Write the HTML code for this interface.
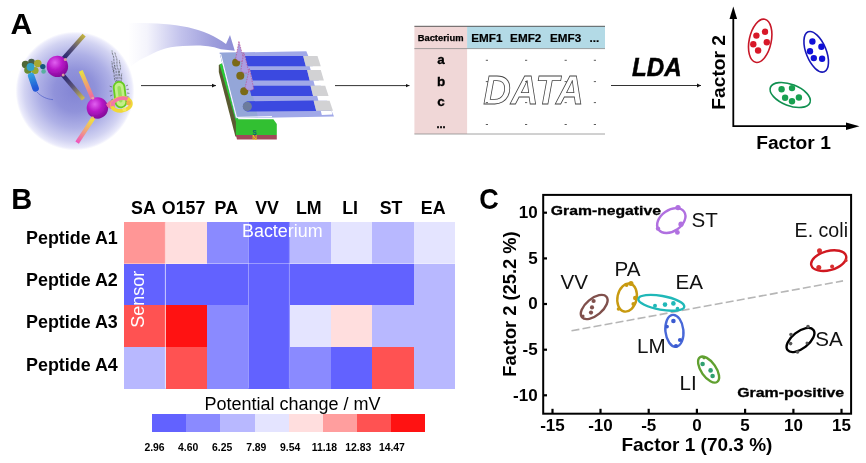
<!DOCTYPE html>
<html>
<head>
<meta charset="utf-8">
<title>Figure</title>
<style>
  html, body { margin: 0; padding: 0; background: #ffffff; }
  body { width: 866px; height: 463px; overflow: hidden; }
  svg { display: block; font-family: "Liberation Sans", sans-serif; opacity: 0.999; }
  .b { font-weight: bold; }
  .lbl { font-size: 20.6px; fill: #111; }
</style>
</head>
<body>
<svg width="866" height="463" viewBox="0 0 866 463">
  <defs>
    <marker id="ah" markerWidth="6" markerHeight="5" refX="4" refY="2.5" orient="auto" markerUnits="userSpaceOnUse">
      <path d="M0,0.6 L4,2.5 L0,4.4 Z" fill="#111"/>
    </marker>

    <radialGradient id="gSphereBg" cx="75" cy="91" r="59.4" gradientUnits="userSpaceOnUse">
      <stop offset="0" stop-color="#8284d4"/>
      <stop offset="0.35" stop-color="#9092da"/>
      <stop offset="0.62" stop-color="#aeb0e6"/>
      <stop offset="0.85" stop-color="#d2d3f2"/>
      <stop offset="0.96" stop-color="#ebebfb"/>
      <stop offset="1" stop-color="#ffffff"/>
    </radialGradient>
    <radialGradient id="gBall" cx="0.38" cy="0.32" r="0.75">
      <stop offset="0" stop-color="#e060f0"/>
      <stop offset="0.45" stop-color="#b818c8"/>
      <stop offset="1" stop-color="#7a0890"/>
    </radialGradient>
    <linearGradient id="gSwoosh" x1="128" y1="0" x2="234" y2="0" gradientUnits="userSpaceOnUse">
      <stop offset="0" stop-color="#ffffff"/>
      <stop offset="0.18" stop-color="#f4f4fc"/>
      <stop offset="0.5" stop-color="#c2c2ec"/>
      <stop offset="0.8" stop-color="#9e9edc"/>
      <stop offset="1" stop-color="#8e8ed6"/>
    </linearGradient>
    <linearGradient id="gRod1" x1="64.7" y1="57.3" x2="83.5" y2="35.7" gradientUnits="userSpaceOnUse">
      <stop offset="0" stop-color="#2a2870"/><stop offset="0.45" stop-color="#5a5478"/><stop offset="1" stop-color="#c0b040"/>
    </linearGradient>
    <linearGradient id="gRod2" x1="63.3" y1="76.9" x2="83.5" y2="99.4" gradientUnits="userSpaceOnUse">
      <stop offset="0" stop-color="#2a2870"/><stop offset="0.45" stop-color="#5a5478"/><stop offset="1" stop-color="#d0c050"/>
    </linearGradient>
    <linearGradient id="gRod3" x1="81.5" y1="71.3" x2="92.8" y2="99.4" gradientUnits="userSpaceOnUse">
      <stop offset="0" stop-color="#e8e040"/><stop offset="0.5" stop-color="#f0a070"/><stop offset="1" stop-color="#f060a8"/>
    </linearGradient>
    <linearGradient id="gRod4" x1="91.4" y1="119" x2="76.8" y2="142.8" gradientUnits="userSpaceOnUse">
      <stop offset="0" stop-color="#f0e040"/><stop offset="0.5" stop-color="#f0a080"/><stop offset="1" stop-color="#f050c0"/>
    </linearGradient>
    <linearGradient id="gPill" x1="30" y1="71" x2="36" y2="88" gradientUnits="userSpaceOnUse">
      <stop offset="0" stop-color="#38b0e0"/><stop offset="1" stop-color="#2058d8"/>
    </linearGradient>
    <filter id="soft" x="-5%" y="-5%" width="110%" height="110%"><feGaussianBlur stdDeviation="0.45"/></filter>
  </defs>
  <rect x="0" y="0" width="866" height="463" fill="#ffffff"/>

  <!-- ===================== PANEL LABELS ===================== -->
  <text x="10.4" y="33.8" class="b" font-size="30.2">A</text>
  <text x="11.2" y="208.8" class="b" font-size="29">B</text>
  <text transform="translate(479.3,208.8) scale(0.9,1)" class="b" font-size="30">C</text>

  <!-- ===================== PANEL A ===================== -->
  <g id="panelA">
    <!-- big swoosh arrow -->
    <path d="M127,23 C150,22.6 170,23.5 188,27.3 C203,30.8 216,36.5 226,44 L230,35 L234.8,50.8 L220.9,49.2 C211,46 203,45.4 196.6,45.5 C187,45.6 178,46 170.6,47.2 C163,48.8 158,50.6 153.3,53.3 C147,56.4 143,58.5 139.4,60.2 L131,66 L120,40 Z" fill="url(#gSwoosh)" filter="url(#soft)"/>
    <!-- background sphere -->
    <circle cx="75" cy="91" r="59.4" fill="url(#gSphereBg)"/>
    <g filter="url(#soft)">
      <!-- rods -->
      <line x1="63" y1="59" x2="84.1" y2="35.2" stroke="url(#gRod1)" stroke-width="4.2"/>
      <line x1="62.5" y1="74.6" x2="83.4" y2="99.2" stroke="url(#gRod2)" stroke-width="4.2"/>
      <line x1="80.7" y1="70.9" x2="93.6" y2="100.6" stroke="url(#gRod3)" stroke-width="4.2"/>
      <line x1="93.6" y1="117.6" x2="77.1" y2="142.6" stroke="url(#gRod4)" stroke-width="4.2"/>
      <!-- magenta balls -->
      <circle cx="57.4" cy="66.4" r="10.7" fill="url(#gBall)"/>
      <circle cx="97.4" cy="108" r="10.7" fill="url(#gBall)"/>
      <circle cx="65.3" cy="59.4" r="1.5" fill="#d89aa0"/>
      <circle cx="63.2" cy="75" r="1.5" fill="#d89aa0"/>
      <circle cx="92.8" cy="98.2" r="1.4" fill="#e8a0a0"/>
      <circle cx="92.6" cy="117.8" r="1.4" fill="#e8c070"/>
      <!-- left protein cluster -->
      <circle cx="25.5" cy="64.5" r="3.7" fill="#506838"/>
      <circle cx="28" cy="70" r="3.8" fill="#688a30"/>
      <circle cx="31.5" cy="62" r="3.3" fill="#4a6048"/>
      <circle cx="37.8" cy="63.5" r="3.8" fill="#a8a830"/>
      <circle cx="35" cy="70.5" r="3.6" fill="#98a830"/>
      <circle cx="30.5" cy="67" r="3.9" fill="#30a0c8"/>
      <circle cx="42.8" cy="66.6" r="2.7" fill="#18587c"/>
      <circle cx="43.6" cy="71.4" r="2.3" fill="#58b0a0"/>
      <line x1="31.2" y1="76" x2="35.6" y2="88.4" stroke="url(#gPill)" stroke-width="6.6" stroke-linecap="round"/>
      <path d="M37,92 C41,96.5 47,99.3 53,99.6" fill="none" stroke="#5060c8" stroke-width="0.7"/>
      <!-- bacterium -->
      <g fill="none" stroke="#202820" stroke-width="0.5" stroke-dasharray="2.2,0.9">
        <path d="M117.5,82 C114,77 118,72.5 115,67 C113,62.5 115,58.5 112.5,54 C112,52.5 112.3,51.5 112,50.5"/>
        <path d="M118.5,82 C116.5,77 120,72.5 117.5,67.5 C116,63.5 118,60 116,56.5 C115.2,55 115.5,53.5 114.5,52"/>
        <path d="M119.5,82 C121.5,78 118,74 120,70 C121.5,66.5 119,63.5 119.5,60"/>
        <path d="M116.5,82.5 C112.5,78.5 115.5,74 113,69.5 C111.5,66.5 113,64 111.5,61"/>
        <path d="M120.5,82.5 C123,79.5 120.5,76 122,73"/>
        <path d="M113,72 C115,70 113,67.5 115,65.5"/>
      </g>
      <rect x="114.6" y="81.8" width="10.8" height="25.6" rx="5.4" fill="#c4ee88" stroke="#68cc20" stroke-width="1.8" transform="rotate(-7 120 94.6)"/>
      <rect x="118.2" y="86" width="3.6" height="16.5" rx="1.8" fill="#98e058" transform="rotate(-7 120 94.6)"/>
      <g fill="none" stroke="#2c3c2c" stroke-width="0.5">
        <path d="M125.8,86 l2.2,-1 M126.5,89.5 l2.4,-0.3 M127,93 l2.4,0.4 M127.2,96.5 l2.2,0.8 M112,87 l-2.3,-0.8 M112,91 l-2.4,0.2 M112.4,95 l-2.3,1 M113,99 l-2.2,1.4 M111.5,103 l-2,1.2"/>
      </g>
      <!-- pink / yellow receptor ring -->
      <path d="M106,104.5 C108.5,100.5 112,99.5 115,100.5 L114.5,108.5 C111.5,110 108,108.5 106,104.5 Z" fill="#f070a0"/>
      <ellipse cx="121.4" cy="104.4" rx="9.6" ry="6.4" fill="none" stroke="#f0d838" stroke-width="3.6" transform="rotate(-8 121.4 104.4)"/>
      <path d="M112.2,106.2 A9.6,6.4 -8 0 1 127.5,99.2" fill="none" stroke="#f278a4" stroke-width="3.6"/>
      <circle cx="128.6" cy="103" r="2.4" fill="#f0b050"/>
      <circle cx="124.4" cy="109.6" r="2" fill="#f4e860"/>
    </g>
    <!-- straight arrows -->
    <line x1="141" y1="85.6" x2="216" y2="85.6" stroke="#333" stroke-width="1" marker-end="url(#ah)"/>
    <line x1="335" y1="85.6" x2="409.5" y2="85.6" stroke="#333" stroke-width="1" marker-end="url(#ah)"/>
    <line x1="611" y1="85.5" x2="701" y2="85.5" stroke="#333" stroke-width="1" marker-end="url(#ah)"/>
    <!-- chip -->
    <g filter="url(#soft)">
      <!-- magnet base -->
      <polygon points="218.8,65 221,64 237,120 237,136.5 235.4,136.5 218.8,72" fill="#5a5a30"/>
      <polygon points="219.6,64.5 222.4,63 238.4,119.6 236.2,122.5" fill="#2ccc34"/>
      <polygon points="235.9,119.3 273.4,119.3 276.8,124 276.8,135 235.9,135" fill="#30c030"/>
      <polygon points="235.9,135 276.8,135 276.8,139.4 237,139.4" fill="#a04a5a"/>
      <text x="252.5" y="134.6" font-size="6.5" class="b" fill="#106070">S</text>
      <text x="252.2" y="139.6" font-size="6.5" class="b" fill="#f0c020">N</text>
      <!-- plate -->
      <polygon points="219.6,52.8 306.3,51.2 334,116.6 235.9,118.2" fill="#a0a8e8"/>
      <polygon points="219.6,52.8 243,52.4 258,117.4 235.9,118" fill="#94a6d8"/>
      <polyline points="220.6,54 236.6,117.4 272,116.6" fill="none" stroke="#ffffff" stroke-width="1"/>
      <!-- white notches at right -->
      <polygon points="309.6,66.2 320.9,66.2 322,70.2 310.8,70.2" fill="#ffffff"/>
      <polygon points="313.4,80.6 324,80.6 325.4,85.8 314.8,85.8" fill="#ffffff"/>
      <polygon points="317.2,96 328.7,96 330,100.8 318.4,100.8" fill="#ffffff"/>
      <polygon points="320.8,111 331.6,111 332.4,114.6 321.8,114.9" fill="#ffffff"/>
      <!-- blue strips -->
      <polygon points="245,55.9 303.2,55.9 305.8,66.3 247.5,66.3" fill="#3a48e0"/>
      <polygon points="250.1,70.1 307.1,70.1 309.7,80.5 252.7,80.5" fill="#3a48e0"/>
      <polygon points="248.8,85.7 310.5,85.7 313.1,96 251.4,96" fill="#3a48e0"/>
      <path d="M247.5,101.2 L313.6,100.6 L316.2,110.9 L248.8,111.6 A5.2,5.2 0 0 1 247.5,101.2 Z" fill="#3a48e0"/>
      <circle cx="247.3" cy="106.4" r="4.6" fill="#6c7c9c"/>
      <!-- grey pads -->
      <polygon points="303.2,55.9 317.5,55.9 320.8,66.3 305.8,66.3" fill="#d2d2d4"/>
      <polygon points="307.1,70.1 320.8,70.1 323.9,80.5 309.7,80.5" fill="#d2d2d4"/>
      <polygon points="310.5,85.7 325.2,85.7 328.6,96 313.1,96" fill="#d2d2d4"/>
      <polygon points="313.6,100.8 329.6,100.8 333,110.8 316.2,110.8" fill="#d2d2d4"/>
      <!-- olive bases + cones -->
      <circle cx="236.1" cy="62.4" r="4" fill="#7a6a18"/>
      <path d="M238.9,41.3 L235.7,58.4 Q239.2,63.2 244,60.2 Z" fill="#ac9ce0" stroke="#c04080" stroke-width="0.6" stroke-dasharray="1.5,1.1"/>
      <circle cx="240.3" cy="75.7" r="4" fill="#7a6a18"/>
      <path d="M243.8,52.6 L240.9,70.2 Q244.2,75 248.9,72.1 Z" fill="#ac9ce0" stroke="#c04080" stroke-width="0.6" stroke-dasharray="1.5,1.1"/>
      <circle cx="244.2" cy="91.2" r="4" fill="#7a6a18"/>
      <path d="M249.4,68.7 L245.1,87.7 Q248.6,92.4 253.8,89 Z" fill="#ac9ce0" stroke="#c04080" stroke-width="0.6" stroke-dasharray="1.5,1.1"/>
    </g>
    <!-- data table -->
    <rect x="414.4" y="26.2" width="52.7" height="107.8" fill="#f0d7d7"/>
    <rect x="467.1" y="26.2" width="137.9" height="22.4" fill="#b3dae6"/>
    <line x1="414.4" y1="26.3" x2="605" y2="26.3" stroke="#4a4a4a" stroke-width="0.9"/>
    <line x1="414.4" y1="48.6" x2="605" y2="48.6" stroke="#8a8a8a" stroke-width="0.8"/>
    <line x1="414.4" y1="134" x2="605" y2="134" stroke="#8a8a8a" stroke-width="0.8"/>
    <text x="440.6" y="40.8" class="b" font-size="9.4" text-anchor="middle" fill="#000" stroke="#000" stroke-width="0.25">Bacterium</text>
    <g class="b" font-size="11.7" fill="#000" stroke="#000" stroke-width="0.2">
      <text x="471.3" y="41.8">EMF1</text>
      <text x="510.1" y="41.8">EMF2</text>
      <text x="550" y="41.8">EMF3</text>
      <text x="589.5" y="41.8">...</text>
    </g>
    <g class="b" font-size="13.5" fill="#000" stroke="#000" stroke-width="0.3" text-anchor="middle">
      <text x="441" y="64">a</text>
      <text x="441" y="86">b</text>
      <text x="441" y="106.3">c</text>
      <text x="441" y="127.5" font-size="11">...</text>
    </g>
    
    <text x="483.2" y="104" font-size="40" font-style="italic" class="b" fill="#ffffff" stroke="#444" stroke-width="0.8" textLength="100.5" lengthAdjust="spacingAndGlyphs">DATA</text>
    <g stroke="#333" stroke-width="0.8">
      <path d="M485.8,60.3h2.2 M525,60.3h2.2 M564.6,60.3h2.2 M593.8,60.3h2.2"/>
      <path d="M485.8,81.6h2.2 M525,81.6h2.2 M564.6,81.6h2.2 M593.8,81.6h2.2"/>
      <path d="M485.8,102.6h2.2 M525,102.6h2.2 M564.6,102.6h2.2 M593.8,102.6h2.2"/>
      <path d="M485.8,124.5h2.2 M525,124.5h2.2 M564.6,124.5h2.2 M593.8,124.5h2.2"/>
    </g>
    <!-- LDA -->
    <text x="632" y="76.2" class="b" font-style="italic" font-size="25" fill="#000" stroke="#000" stroke-width="0.5" textLength="49.6" lengthAdjust="spacingAndGlyphs">LDA</text>
    <!-- mini scatter -->
    <g stroke="#000" stroke-width="1.8" fill="none">
      <polyline points="733.3,14 733.3,126.2 848,126.2"/>
    </g>
    <polygon points="733.3,6.5 729.5,19 737.1,19" fill="#000"/>
    <polygon points="859.5,126.2 846,122.4 846,130" fill="#000"/>
    <text x="793.5" y="149.3" class="b" font-size="19.2" text-anchor="middle">Factor 1</text>
    <text transform="translate(724.6,72.3) rotate(-90)" class="b" font-size="19.2" text-anchor="middle">Factor 2</text>
    <g fill="none" stroke-width="1.6">
      <ellipse cx="760.2" cy="40.8" rx="11" ry="22" transform="rotate(12 760.2 40.8)" stroke="#c81828"/>
      <ellipse cx="816.2" cy="51.8" rx="10" ry="21.5" transform="rotate(-22 816.2 51.8)" stroke="#1818b8"/>
      <ellipse cx="790.2" cy="95" rx="21.2" ry="10.6" transform="rotate(21 790.2 95)" stroke="#109050"/>
    </g>
    <g fill="#d81828">
      <circle cx="756.4" cy="35.6" r="3.2"/><circle cx="765" cy="31.8" r="3.2"/><circle cx="753.3" cy="44.2" r="3.2"/><circle cx="766.8" cy="42.2" r="3.2"/><circle cx="758.1" cy="50.5" r="3.2"/>
    </g>
    <g fill="#1010d8">
      <circle cx="812.4" cy="41.5" r="3.2"/><circle cx="821.4" cy="46.7" r="3.2"/><circle cx="810" cy="51.2" r="3.2"/><circle cx="813.8" cy="58.1" r="3.2"/><circle cx="822.1" cy="58.8" r="3.2"/>
    </g>
    <g fill="#18a050">
      <circle cx="781.6" cy="89.2" r="3.2"/><circle cx="792" cy="88.1" r="3.2"/><circle cx="785.1" cy="97.8" r="3.2"/><circle cx="792" cy="101.3" r="3.2"/><circle cx="798.9" cy="97.5" r="3.2"/>
    </g>
  </g>

  <!-- ===================== PANEL B ===================== -->
  <g id="panelB">
    <!-- column headers -->
    <g class="b" font-size="17.8" text-anchor="middle" fill="#000">
      <text x="143.4" y="214.2">SA</text>
      <text x="183.6" y="214.2">O157</text>
      <text x="226.3" y="214.2">PA</text>
      <text x="267" y="214.2">VV</text>
      <text x="308.8" y="214.2">LM</text>
      <text x="350.1" y="214.2">LI</text>
      <text x="391" y="214.2">ST</text>
      <text x="433.2" y="214.2">EA</text>
    </g>
    <!-- row labels -->
    <g class="b" font-size="17.9" fill="#000">
      <text x="26" y="243.9">Peptide A1</text>
      <text x="26" y="286">Peptide A2</text>
      <text x="26" y="328.2">Peptide A3</text>
      <text x="26" y="370.8">Peptide A4</text>
    </g>
    <!-- heatmap cells : x0=124.3, w=41.33 ; y0=222.1, h=41.6 -->
    <g shape-rendering="crispEdges">
      <!-- row 1 -->
      <rect x="124.3" y="222.1" width="41.4" height="41.7" fill="#ff9696"/>
      <rect x="165.6" y="222.1" width="41.4" height="41.7" fill="#ffdede"/>
      <rect x="207.0" y="222.1" width="41.4" height="41.7" fill="#8a8aff"/>
      <rect x="248.3" y="222.1" width="41.4" height="41.7" fill="#6262ff"/>
      <rect x="289.6" y="222.1" width="41.4" height="41.7" fill="#b8b8ff"/>
      <rect x="331.0" y="222.1" width="41.4" height="41.7" fill="#e4e4ff"/>
      <rect x="372.3" y="222.1" width="41.4" height="41.7" fill="#b8b8ff"/>
      <rect x="413.6" y="222.1" width="41.3" height="41.7" fill="#e4e4ff"/>
      <!-- row 2 -->
      <rect x="124.3" y="263.7" width="41.4" height="41.7" fill="#6262ff"/>
      <rect x="165.6" y="263.7" width="41.4" height="41.7" fill="#6262ff"/>
      <rect x="207.0" y="263.7" width="41.4" height="41.7" fill="#6262ff"/>
      <rect x="248.3" y="263.7" width="41.4" height="41.7" fill="#6262ff"/>
      <rect x="289.6" y="263.7" width="41.4" height="41.7" fill="#6262ff"/>
      <rect x="331.0" y="263.7" width="41.4" height="41.7" fill="#6262ff"/>
      <rect x="372.3" y="263.7" width="41.4" height="41.7" fill="#6262ff"/>
      <rect x="413.6" y="263.7" width="41.3" height="41.7" fill="#b8b8ff"/>
      <!-- row 3 -->
      <rect x="124.3" y="305.3" width="41.4" height="41.7" fill="#ff5252"/>
      <rect x="165.6" y="305.3" width="41.4" height="41.7" fill="#ff1212"/>
      <rect x="207.0" y="305.3" width="41.4" height="41.7" fill="#8a8aff"/>
      <rect x="248.3" y="305.3" width="41.4" height="41.7" fill="#6262ff"/>
      <rect x="289.6" y="305.3" width="41.4" height="41.7" fill="#e4e4ff"/>
      <rect x="331.0" y="305.3" width="41.4" height="41.7" fill="#ffdede"/>
      <rect x="372.3" y="305.3" width="41.4" height="41.7" fill="#b8b8ff"/>
      <rect x="413.6" y="305.3" width="41.3" height="41.7" fill="#b8b8ff"/>
      <!-- row 4 -->
      <rect x="124.3" y="346.9" width="41.4" height="41.6" fill="#b8b8ff"/>
      <rect x="165.6" y="346.9" width="41.4" height="41.6" fill="#ff5252"/>
      <rect x="207.0" y="346.9" width="41.4" height="41.6" fill="#8a8aff"/>
      <rect x="248.3" y="346.9" width="41.4" height="41.6" fill="#6262ff"/>
      <rect x="289.6" y="346.9" width="41.4" height="41.6" fill="#8a8aff"/>
      <rect x="331.0" y="346.9" width="41.4" height="41.6" fill="#6262ff"/>
      <rect x="372.3" y="346.9" width="41.4" height="41.6" fill="#ff5252"/>
      <rect x="413.6" y="346.9" width="41.3" height="41.6" fill="#b8b8ff"/>
    </g>
    <g stroke="#ffffff" stroke-width="0.8" stroke-opacity="0.85">
      <line x1="165.4" y1="222.1" x2="165.4" y2="388.5"/>
      <line x1="248.5" y1="222.1" x2="248.5" y2="388.5" stroke-opacity="0.45"/>
      <line x1="289.4" y1="222.1" x2="289.4" y2="388.5" stroke-opacity="0.45"/>
      <line x1="124.3" y1="263.5" x2="454.9" y2="263.5" stroke-opacity="0.45"/>
    </g>
    <!-- overlay text -->
    <text x="282.3" y="236.6" font-size="17.9" fill="#ffffff" text-anchor="middle">Bacterium</text>
    <text transform="translate(143.6,299.3) rotate(-90)" font-size="18" fill="#ffffff" text-anchor="middle">Sensor</text>
    <!-- colour bar -->
    <text x="292.5" y="410" font-size="18" fill="#000" text-anchor="middle">Potential change / mV</text>
    <g shape-rendering="crispEdges">
      <rect x="152.4" y="414.1" width="34.2" height="17.5" fill="#6262ff"/>
      <rect x="186.4" y="414.1" width="34.2" height="17.5" fill="#8a8aff"/>
      <rect x="220.4" y="414.1" width="34.2" height="17.5" fill="#b8b8ff"/>
      <rect x="254.5" y="414.1" width="34.2" height="17.5" fill="#e4e4ff"/>
      <rect x="288.5" y="414.1" width="34.2" height="17.5" fill="#ffdede"/>
      <rect x="322.5" y="414.1" width="34.2" height="17.5" fill="#ff9e9e"/>
      <rect x="356.5" y="414.1" width="34.2" height="17.5" fill="#ff5252"/>
      <rect x="390.6" y="414.1" width="34.0" height="17.5" fill="#ff1212"/>
    </g>
    <g class="b" font-size="10.4" text-anchor="middle" fill="#000">
      <text x="154.5" y="450.8">2.96</text>
      <text x="188.2" y="450.8">4.60</text>
      <text x="222.2" y="450.8">6.25</text>
      <text x="256.3" y="450.8">7.89</text>
      <text x="290.1" y="450.8">9.54</text>
      <text x="324.4" y="450.8">11.18</text>
      <text x="358.2" y="450.8">12.83</text>
      <text x="391.9" y="450.8">14.47</text>
    </g>
  </g>

  <!-- ===================== PANEL C ===================== -->
  <g id="panelC">
    <!-- frame -->
    <rect x="543.2" y="194.9" width="307.9" height="218.8" fill="none" stroke="#000" stroke-width="2"/>
    <!-- ticks -->
    <g stroke="#000" stroke-width="2.2">
      <line x1="552.5" y1="413.7" x2="552.5" y2="408.8"/>
      <line x1="600.5" y1="413.7" x2="600.5" y2="408.8"/>
      <line x1="648.7" y1="413.7" x2="648.7" y2="408.8"/>
      <line x1="696.9" y1="413.7" x2="696.9" y2="408.8"/>
      <line x1="745.1" y1="413.7" x2="745.1" y2="408.8"/>
      <line x1="793.4" y1="413.7" x2="793.4" y2="408.8"/>
      <line x1="841.5" y1="413.7" x2="841.5" y2="408.8"/>
      <line x1="543.2" y1="212.7" x2="547" y2="212.7"/>
      <line x1="543.2" y1="258.4" x2="547" y2="258.4"/>
      <line x1="543.2" y1="304" x2="547" y2="304"/>
      <line x1="543.2" y1="349.7" x2="547" y2="349.7"/>
      <line x1="543.2" y1="395.3" x2="547" y2="395.3"/>
    </g>
    <!-- tick labels -->
    <g class="b" font-size="17" fill="#000" text-anchor="middle">
      <text x="552.5" y="431.1">-15</text>
      <text x="600.5" y="431.1">-10</text>
      <text x="648.7" y="431.1">-5</text>
      <text x="696.9" y="431.1">0</text>
      <text x="745.1" y="431.1">5</text>
      <text x="793.4" y="431.1">10</text>
      <text x="841.5" y="431.1">15</text>
    </g>
    <g class="b" font-size="17" fill="#000" text-anchor="end">
      <text x="537.6" y="218">10</text>
      <text x="537.6" y="263.7">5</text>
      <text x="537.6" y="309.3">0</text>
      <text x="537.6" y="355">-5</text>
      <text x="537.6" y="400.6">-10</text>
    </g>
    <text x="696.9" y="450.6" class="b" font-size="19" text-anchor="middle">Factor 1 (70.3 %)</text>
    <text transform="translate(516,376.7) rotate(-90)" class="b" font-size="19" textLength="145.3" lengthAdjust="spacingAndGlyphs">Factor 2 (25.2 %)</text>
    <!-- dashed separator -->
    <line x1="571.5" y1="330.8" x2="843" y2="280.9" stroke="#b6b6b6" stroke-width="1.6" stroke-dasharray="8,3.2"/>
    <!-- annotation -->
    <text x="550.8" y="215.2" class="b" font-size="13.2" textLength="110.2" lengthAdjust="spacingAndGlyphs" stroke="#000" stroke-width="0.3">Gram-negative</text>
    <text x="737.2" y="397.3" class="b" font-size="13.2" textLength="107" lengthAdjust="spacingAndGlyphs" stroke="#000" stroke-width="0.3">Gram-positive</text>
    <!-- clusters -->
    <g fill="none" stroke-width="2.4">
      <ellipse cx="671.3" cy="220.6" rx="15.6" ry="10.6" transform="rotate(-35 671.3 220.6)" stroke="#b070e0"/>
      <ellipse cx="828.7" cy="260.6" rx="18" ry="9.6" transform="rotate(-15 828.7 260.6)" stroke="#d01820"/>
      <ellipse cx="627.1" cy="297.6" rx="9.6" ry="14.2" transform="rotate(12 627.1 297.6)" stroke="#c89a10"/>
      <ellipse cx="594.2" cy="307" rx="16" ry="8.4" transform="rotate(-40 594.2 307)" stroke="#80504c"/>
      <ellipse cx="661.3" cy="302.8" rx="23.3" ry="6.9" transform="rotate(10 661.3 302.8)" stroke="#20b8b8"/>
      <ellipse cx="674.4" cy="330.8" rx="9" ry="16" transform="rotate(-6 674.4 330.8)" stroke="#4868d8"/>
      <ellipse cx="708.6" cy="369.6" rx="15" ry="7.4" transform="rotate(55 708.6 369.6)" stroke="#60a030"/>
      <ellipse cx="800.5" cy="340" rx="16.4" ry="8.4" transform="rotate(-38 800.5 340)" stroke="#000"/>
    </g>
    <!-- points -->
    <g>
      <g fill="#b070e0"><circle cx="678" cy="207.6" r="2.7"/><circle cx="681" cy="224.2" r="2.6"/><circle cx="677.4" cy="232.4" r="2.4"/><circle cx="658" cy="228.6" r="2.2"/></g>
      <g fill="#d83030"><circle cx="819.5" cy="250.8" r="2.5"/><circle cx="818.8" cy="267.5" r="2.5"/><circle cx="832.1" cy="266.6" r="2"/><circle cx="846" cy="260.4" r="1.6"/></g>
      <g fill="#c89a10"><circle cx="631" cy="283.4" r="2.5"/><circle cx="626.6" cy="285" r="1.9"/><circle cx="635.2" cy="298" r="2.2"/><circle cx="633.4" cy="304" r="2"/><circle cx="618.5" cy="309" r="1.8"/></g>
      <g fill="#80504c"><circle cx="593.6" cy="301" r="2.1"/><circle cx="592" cy="307.4" r="2.1"/><circle cx="591" cy="312.6" r="2.1"/><circle cx="583" cy="316" r="1.6"/></g>
      <g fill="#20b8b8"><circle cx="655" cy="305.8" r="2"/><circle cx="665" cy="304.6" r="2.3"/><circle cx="673.4" cy="303.4" r="2.3"/><circle cx="677.5" cy="308.5" r="1.8"/></g>
      <g fill="#3a5ad0"><circle cx="673.4" cy="321" r="2.3"/><circle cx="667" cy="326.6" r="1.9"/><circle cx="680" cy="340" r="2.1"/><circle cx="676" cy="346" r="2.1"/></g>
      <g fill="#30a070"><circle cx="702.6" cy="364" r="2.3"/><circle cx="710.6" cy="370.4" r="2.3"/><circle cx="712.6" cy="376" r="2.3"/></g>
      <g fill="#60a030"><circle cx="704" cy="357.6" r="1.8"/></g>
      <g fill="#555"><circle cx="791" cy="334.5" r="1.8"/><circle cx="790.6" cy="343.6" r="1.8"/><circle cx="797.5" cy="352" r="1.8"/><circle cx="808" cy="326.6" r="1.8"/><circle cx="807" cy="343" r="1.5"/></g>
    </g>
    <!-- cluster labels -->
    <g class="lbl">
      <text x="691.5" y="226.8">ST</text>
      <text x="794.6" y="237" textLength="53.4" lengthAdjust="spacingAndGlyphs">E. coli</text>
      <text x="614.6" y="275.6">PA</text>
      <text x="560.6" y="289.4">VV</text>
      <text x="675.6" y="289.2">EA</text>
      <text x="637" y="353.4">LM</text>
      <text x="815.2" y="346.4">SA</text>
      <text x="679.6" y="390">LI</text>
    </g>
  </g>
</svg>
</body>
</html>
